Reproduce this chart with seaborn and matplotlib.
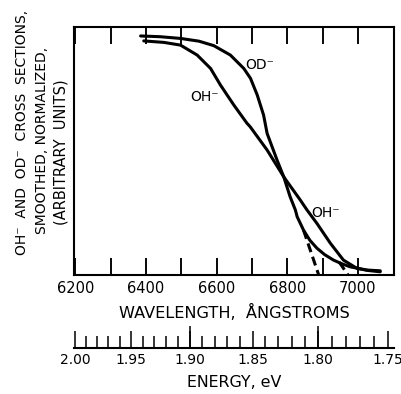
import numpy as np
import pandas as pd
import matplotlib
matplotlib.use("Agg")
import matplotlib.pyplot as plt
import seaborn as sns

# ---- data ----
od_wl = [6385, 6440, 6498, 6550, 6592, 6639, 6677, 6696, 6715, 6733, 6743, 6771,
         6790, 6808, 6823, 6828, 6846, 6864, 6884, 6906, 6931, 6955, 6978, 7025, 7063]
od_val = [0.964, 0.961, 0.954, 0.943, 0.925, 0.887, 0.833, 0.793, 0.726, 0.645, 0.571, 0.464,
          0.396, 0.316, 0.262, 0.235, 0.181, 0.140, 0.108, 0.082, 0.060, 0.045, 0.033, 0.020, 0.017]

oh_wl = [6394, 6451, 6498, 6545, 6583, 6611, 6649, 6686, 6695, 6743, 6790,
         6837, 6856, 6884, 6922, 6959, 6997, 7030, 7063]
oh_val = [0.944, 0.938, 0.927, 0.887, 0.833, 0.766, 0.685, 0.612, 0.598, 0.504, 0.396,
          0.302, 0.262, 0.208, 0.128, 0.060, 0.027, 0.018, 0.013]

od_dash_wl = [6846, 6889]
od_dash_val = [0.181, 0.0]
oh_dash_wl = [6947, 6972]
oh_dash_val = [0.052, 0.0]

wl_ticks = [6200, 6300, 6400, 6500, 6600, 6700, 6800, 6900, 7000]
wl_labels = ["6200", "", "6400", "", "6600", "", "6800", "", "7000"]
energy_major = [2.00, 1.95, 1.90, 1.85, 1.80, 1.75]
energy_labels = ["2.00", "1.95", "1.90", "1.85", "1.80", "1.75"]
energy_tall = [1.90, 1.80]
energy_minor = [round(2.00 - 0.01 * i, 2) for i in range(26)]
HC = 12398.4  # eV * Angstrom

sns.set_theme(style="ticks")
plt.rcParams['font.family'] = ['DejaVu Sans']
plt.rcParams.update({
    "text.color": "black", "axes.labelcolor": "black",
    "xtick.color": "black", "ytick.color": "black",
    "axes.edgecolor": "black",
})

xlim = (6198, 7102)
main_rect = [0.1853, 0.302, 0.7948, 0.6294]
fig = plt.figure(figsize=(4.02, 3.94), dpi=100)

# energy axis (below)
ax2 = fig.add_axes([0.1853, 0.1168, 0.7948, 0.05])
ax2.set_facecolor("none")
for s in ["left", "right", "top"]:
    ax2.spines[s].set_visible(False)
ax2.spines["bottom"].set_linewidth(1.5)
ax2.set_xlim(*xlim)
ax2.set_yticks([])
ax2.set_xticks([HC / e for e in energy_major])
ax2.set_xticklabels(energy_labels)
ax2.set_xticks([HC / e for e in energy_minor], minor=True)
ax2.tick_params(axis="x", which="major", direction="in", length=12.5, width=1.1,
                top=False, pad=3.5, labelsize=10, color="black")
ax2.tick_params(axis="x", which="minor", direction="in", length=9, width=1.1,
                top=False, color="black")
ax2.set_xlabel("ENERGY, eV", fontsize=11.4, labelpad=6)

ax3 = fig.add_axes([0.1853, 0.1168, 0.7948, 0.0501])
ax3.set_facecolor("none")
for s in ax3.spines.values():
    s.set_visible(False)
ax3.set_xlim(*xlim)
ax3.set_yticks([])
ax3.set_xticks([HC / e for e in energy_tall])
ax3.set_xticklabels([])
ax3.tick_params(axis="x", direction="in", length=16, width=1.1, top=False, color="black")

# main axes
ax = fig.add_axes(main_rect)
series = [
    (od_wl, od_val, "-"),
    (oh_wl, oh_val, "-"),
    (od_dash_wl, od_dash_val, (0, (3, 1.6))),
    (oh_dash_wl, oh_dash_val, (0, (3, 1.6))),
]
for wl, val, ls in series:
    df = pd.DataFrame({"wl": wl, "val": val})
    sns.lineplot(data=df, x="wl", y="val", ax=ax, color="black", lw=2.2,
                 sort=False, estimator=None, linestyle=ls)

ax.text(6722, 0.847, "OD⁻", ha="center", va="center", fontsize=10)
ax.text(6566, 0.719, "OH⁻", ha="center", va="center", fontsize=10)
ax.text(6907, 0.249, "OH⁻", ha="center", va="center", fontsize=10)
for sp in ax.spines.values():
    sp.set_linewidth(1.5)
ax.set_ylabel("")
ax.set_xlabel("WAVELENGTH,  ÅNGSTROMS", fontsize=11.6, labelpad=6)

fig.text(22 / 402, 1 - 132 / 394, "OH⁻  AND  OD⁻  CROSS  SECTIONS,", rotation=90,
         ha="center", va="center", fontsize=10)
fig.text(42 / 402, 1 - 140 / 394, "SMOOTHED, NORMALIZED,", rotation=90,
         ha="center", va="center", fontsize=10)
fig.text(61 / 402, 1 - 152 / 394, "(ARBITRARY  UNITS)", rotation=90,
         ha="center", va="center", fontsize=10.5)

ax.set_xlim(*xlim)
ax.set_ylim(0, 1)
ax.set_yticks([])
ax.set_xticks(wl_ticks)
ax.set_xticklabels(wl_labels)
ax.tick_params(axis="x", which="major", direction="in", length=12, width=1.1,
               top=True, bottom=True, labeltop=False, labelbottom=True,
               pad=4, labelsize=10.5, color="black")

# overlay carrying the inward tick marks on top and bottom of the frame
ax4 = fig.add_axes(main_rect)
ax4.set_facecolor("none")
for s in ax4.spines.values():
    s.set_visible(False)
ax4.set_xlim(*xlim)
ax4.set_yticks([])
ax4.set_xticks(wl_ticks)
ax4.set_xticklabels([])
ax4.tick_params(axis="x", which="major", direction="in", length=12, width=1.1,
                top=True, bottom=True, labeltop=False, labelbottom=False,
                color="black")

fig.savefig("out.png", dpi=100)
